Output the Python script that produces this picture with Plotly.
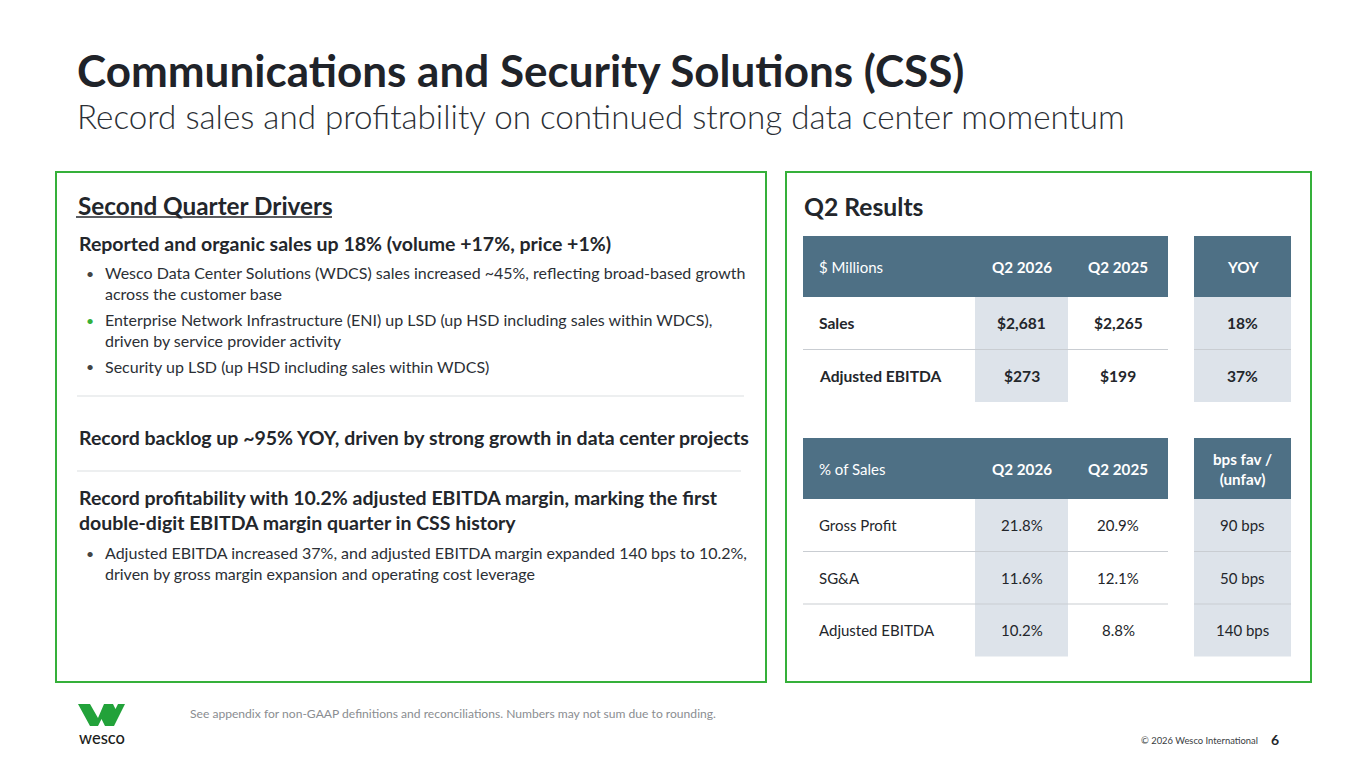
import plotly.graph_objects as go

# slide text
title = "Communications and Security Solutions (CSS)"
subtitle = "Record sales and profitability on continued strong data center momentum"
left_head = "Second Quarter Drivers"
right_head = "Q2 Results"
driver_heads = [
    "Reported and organic sales up 18% (volume +17%, price +1%)",
    "Record backlog up ~95% YOY, driven by strong growth in data center projects",
    "Record profitability with 10.2% adjusted EBITDA margin, marking the first<br>double-digit EBITDA margin quarter in CSS history",
]
bullets_1 = [
    "Wesco Data Center Solutions (WDCS) sales increased ~45%, reflecting broad-based growth<br>across the customer base",
    "Enterprise Network Infrastructure (ENI) up LSD (up HSD including sales within WDCS),<br>driven by service provider activity",
    "Security up LSD (up HSD including sales within WDCS)",
]
bullets_3 = [
    "Adjusted EBITDA increased 37%, and adjusted EBITDA margin expanded 140 bps to 10.2%,<br>driven by gross margin expansion and operating cost leverage",
]
footnote = "See appendix for non-GAAP definitions and reconciliations. Numbers may not sum due to rounding."
copyright_txt = "© 2026 Wesco International"
page_no = "6"

# table 1
hdr1 = ["$ Millions", "Q2 2026", "Q2 2025", "YOY"]
rows1 = ["Sales", "Adjusted EBITDA"]
q2026_1 = ["$2,681", "$273"]
q2025_1 = ["$2,265", "$199"]
yoy_1 = ["18%", "37%"]

# table 2
hdr2 = ["% of Sales", "Q2 2026", "Q2 2025", "bps fav /<br>(unfav)"]
rows2 = ["Gross Profit", "SG&A", "Adjusted EBITDA"]
q2026_2 = ["21.8%", "11.6%", "10.2%"]
q2025_2 = ["20.9%", "12.1%", "8.8%"]
bps_2 = ["90 bps", "50 bps", "140 bps"]

W, H = 1365, 768
OFF = 8  # page body margin, so data units == page pixels
FONT = "Lato"
DARK = "#23262b"
GREEN = "#35b03a"
LOGO_GREEN = "#22a23a"
HEAD_BG = "#4e7085"
SHADE = "#dde3ea"
RULE = "#c9cdd2"

fig = go.Figure()
shapes = []
notes = []


def txt(x, y, s, size, color=DARK, weight=400, anchor="left", valign="middle"):
    notes.append(dict(x=x, y=y, text=s, showarrow=False, xanchor=anchor, yanchor=valign,
                      align=anchor if anchor != "middle" else "center",
                      font=dict(family=FONT, size=size, color=color, weight=weight)))


def rect(x0, y0, x1, y1, fill=None, line=None, width=0):
    shapes.append(dict(type="rect", x0=x0, y0=y0, x1=x1, y1=y1, layer="below",
                       fillcolor=fill if fill else "rgba(0,0,0,0)",
                       line=dict(color=line if line else "rgba(0,0,0,0)", width=width)))


def hline(x0, x1, y, color=RULE, width=1.2):
    shapes.append(dict(type="line", x0=x0, x1=x1, y0=y, y1=y, layer="above",
                       line=dict(color=color, width=width)))


# header
txt(75, 70, "<b>" + title + "</b>", 44, color="#1f2329", weight=700)
txt(75, 116, subtitle, 33.2, color="#2b2f35", weight=300)

# panels
rect(56, 172, 766, 682, line=GREEN, width=2)
rect(786, 172, 1311, 682, line=GREEN, width=2)

# left panel
txt(76, 205, "<b>" + left_head + "</b>", 24.3, weight=700)
hline(76, 332, 217, color=DARK, width=1.3)
txt(77, 243, "<b>" + driver_heads[0] + "</b>", 19.5, weight=700)
b_y = [283, 330, 366]
for i, b in enumerate(bullets_1):
    top = b_y[i] - (10 if "<br>" in b else 0)
    txt(84, top, "•", 14, color=GREEN if i == 1 else "#444")
    txt(103, b_y[i], b, 16, color="#2b2f35")
hline(77, 744, 396, color="#dcdfe2")
txt(77, 437, "<b>" + driver_heads[1] + "</b>", 19.5, weight=700)
hline(77, 741, 471, color="#dcdfe2")
txt(77, 510, "<b>" + driver_heads[2] + "</b>", 19.5, weight=700)
txt(84, 553, "•", 14, color="#444")
txt(103, 563, bullets_3[0], 16, color="#2b2f35")

# right panel
txt(802, 206, "<b>" + right_head + "</b>", 24.7, weight=700)

# column geometry
lab_x0, c1_x0, c2_x0, c2_x1 = 803, 975, 1068, 1168
c3_x0, c3_x1 = 1194, 1291
hdr_h, row_h = 61, 52.5


def draw_table(top, hdr, labels, v1, v2, v3, bold):
    hb = top + hdr_h
    rect(lab_x0, top, c2_x1, hb, fill=HEAD_BG)
    rect(c3_x0, top, c3_x1, hb, fill=HEAD_BG)
    bottom = hb + row_h * len(labels)
    rect(c1_x0, hb, c2_x0, bottom, fill=SHADE)
    rect(c3_x0, hb, c3_x1, bottom, fill=SHADE)
    hm = top + hdr_h / 2
    txt(lab_x0 + 14, hm, hdr[0], 15, color="white")
    txt((c1_x0 + c2_x0) / 2, hm, "<b>" + hdr[1] + "</b>", 15.2, color="white", weight=700, anchor="center")
    txt((c2_x0 + c2_x1) / 2, hm, "<b>" + hdr[2] + "</b>", 15.2, color="white", weight=700, anchor="center")
    txt((c3_x0 + c3_x1) / 2, hm, "<b>" + hdr[3] + "</b>", 15.2, color="white", weight=700, anchor="center")
    for i, lab in enumerate(labels):
        ym = hb + row_h * (i + 0.5)
        w = 700 if bold else 400
        sz = 15.6 if bold else 15
        f = (lambda s: "<b>" + s + "</b>") if bold else (lambda s: s)
        txt(lab_x0 + 14, ym, f(lab), sz, weight=w)
        txt((c1_x0 + c2_x0) / 2, ym, f(v1[i]), sz, weight=w, anchor="center")
        txt((c2_x0 + c2_x1) / 2, ym, f(v2[i]), sz, weight=w, anchor="center")
        txt((c3_x0 + c3_x1) / 2, ym, f(v3[i]), sz, weight=w, anchor="center")
        if i > 0:
            yl = hb + row_h * i
            hline(lab_x0, c2_x1, yl)
            hline(c3_x0, c3_x1, yl)


draw_table(236, hdr1, rows1, q2026_1, q2025_1, yoy_1, True)
draw_table(438, hdr2, rows2, q2026_2, q2025_2, bps_2, False)

# footer: logo mark
logo_path = ("M78,704 L90,704 L98,718 L104,704 L113,704 L115.5,709 L118,704 L125,704 "
             "L114,726 L105,726 L101.5,719 L98,726 L90,726 Z")
shapes.append(dict(type="path", path=logo_path, fillcolor=LOGO_GREEN,
                   line=dict(width=0), layer="above"))
txt(101.5, 738, "wesco", 16.5, color="#1b1d20", weight=500, anchor="center")
txt(188, 713, footnote, 12.1, color="#8a8d91")
txt(1260, 740, copyright_txt, 9.4, color="#3a3d42", anchor="right")
txt(1275, 739, "<b>" + page_no + "</b>", 14, weight=700, anchor="center")

fig.update_layout(
    width=W - OFF, height=H - OFF,
    margin=dict(l=0, r=0, t=0, b=0),
    paper_bgcolor="white", plot_bgcolor="white",
    xaxis=dict(range=[OFF, W], visible=False, fixedrange=True),
    yaxis=dict(range=[H, OFF], visible=False, fixedrange=True),
    shapes=shapes, annotations=notes, showlegend=False,
)

fig.write_html("out.html", config={"displayModeBar": False})
